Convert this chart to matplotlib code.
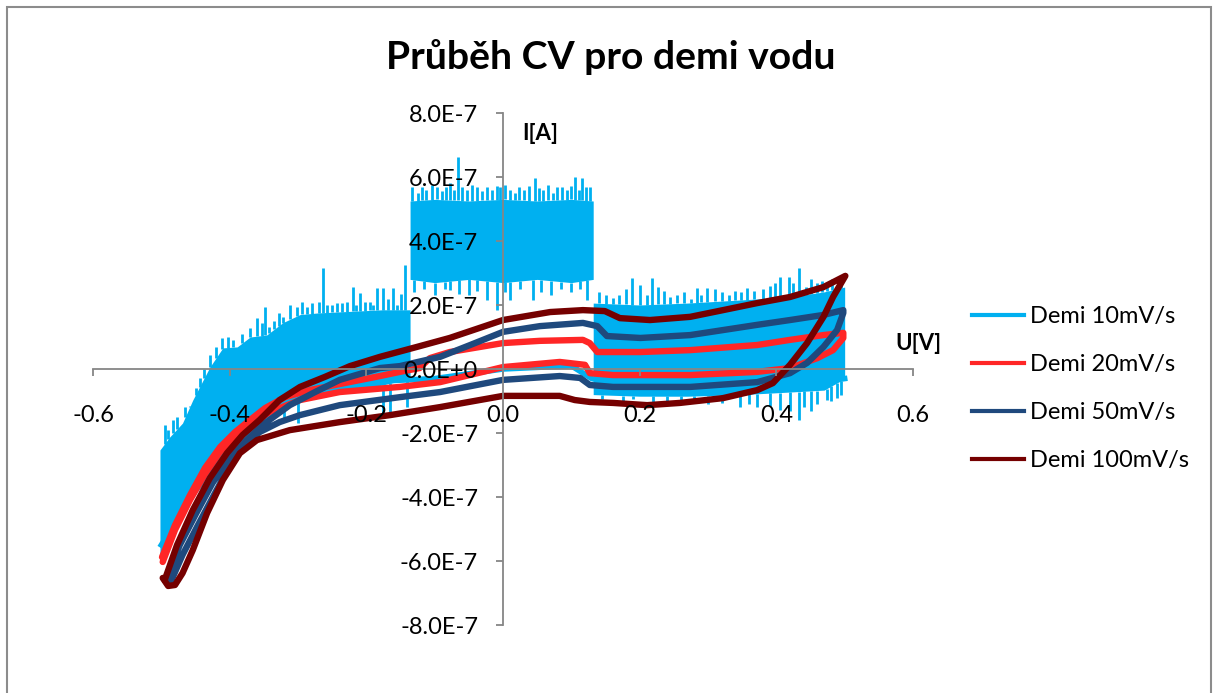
import numpy as np
import matplotlib
matplotlib.use("Agg")
import matplotlib.pyplot as plt
from matplotlib.lines import Line2D
from matplotlib.patches import Rectangle
from matplotlib.ticker import FuncFormatter

plt.rcParams['font.family'] = ['Lato', 'DejaVu Sans']

E7 = 1e-7   # proudy v tabulkach jsou v jednotkach 1e-7 A

# ---- Demi 20mV/s (dopredny a zpetny sken)
u20_fwd = [-0.499, -0.480, -0.458, -0.436, -0.414, -0.392, -0.370, -0.348, -0.319, -0.283, -0.239,
           -0.180, -0.151, -0.122, -0.107, -0.078, 0.000, 0.054, 0.117, 0.127, 0.138, 0.201, 0.274,
           0.372, 0.420, 0.469, 0.498]
i20_fwd = [-5.88, -4.88, -3.94, -3.09, -2.44, -1.97, -1.59, -1.22, -0.88, -0.66, -0.47,
           -0.22, -0.09, 0.03, 0.34, 0.53, 0.81, 0.88, 0.91, 0.81, 0.53, 0.53, 0.59,
           0.75, 0.91, 1.06, 1.13]
u20_rev = [0.498, 0.483, 0.460, 0.420, 0.372, 0.274, 0.161, 0.127, 0.120, 0.083, 0.000, -0.092,
           -0.151, -0.239, -0.297, -0.341, -0.370, -0.392, -0.414, -0.436, -0.458, -0.480, -0.498]
i20_rev = [0.97, 0.59, 0.34, 0.03, -0.09, -0.19, -0.19, -0.13, 0.13, 0.22, 0.06, -0.41,
           -0.56, -0.72, -0.97, -1.34, -1.75, -2.13, -2.59, -3.28, -4.09, -5.03, -6.03]

# ---- Demi 50mV/s
u50_fwd = [-0.492, -0.473, -0.448, -0.425, -0.400, -0.375, -0.348, -0.312, -0.275, -0.239, -0.180,
           -0.151, -0.092, -0.048, 0.000, 0.054, 0.117, 0.138, 0.152, 0.201, 0.274, 0.372, 0.420,
           0.469, 0.498]
i50_fwd = [-6.53, -5.50, -4.47, -3.56, -2.78, -2.22, -1.69, -1.13, -0.72, -0.34, 0.03,
           0.09, 0.38, 0.75, 1.16, 1.34, 1.44, 1.34, 1.03, 0.97, 1.06, 1.38, 1.53,
           1.69, 1.84]
u50_rev = [0.498, 0.489, 0.469, 0.445, 0.420, 0.372, 0.274, 0.161, 0.127, 0.113, 0.083, 0.000,
           -0.092, -0.151, -0.239, -0.297, -0.327, -0.356, -0.378, -0.395, -0.419, -0.444, -0.469,
           -0.485, -0.492]
i50_rev = [1.75, 1.22, 0.69, 0.19, -0.13, -0.41, -0.56, -0.56, -0.50, -0.28, -0.22, -0.34,
           -0.72, -0.88, -1.13, -1.44, -1.66, -1.97, -2.38, -2.84, -3.78, -4.78, -5.81,
           -6.59, -6.69]

# ---- Demi 100mV/s
u100_fwd = [-0.495, -0.477, -0.454, -0.429, -0.404, -0.381, -0.356, -0.327, -0.297, -0.261, -0.224,
            -0.180, -0.126, -0.078, 0.000, 0.069, 0.117, 0.149, 0.171, 0.215, 0.274, 0.322, 0.372,
            0.420, 0.469, 0.501]
i100_fwd = [-6.59, -5.50, -4.41, -3.41, -2.63, -2.06, -1.59, -0.97, -0.56, -0.25, 0.09,
            0.38, 0.69, 0.97, 1.53, 1.78, 1.84, 1.81, 1.59, 1.53, 1.63, 1.84, 2.06,
            2.25, 2.56, 2.91]
u100_rev = [0.501, 0.483, 0.469, 0.445, 0.420, 0.395, 0.372, 0.322, 0.259, 0.211, 0.161, 0.127,
            0.105, 0.083, 0.000, -0.092, -0.165, -0.239, -0.312, -0.360, -0.385, -0.410, -0.433,
            -0.454, -0.469, -0.480, -0.490, -0.498]
i100_rev = [2.91, 2.25, 1.63, 0.81, 0.13, -0.44, -0.66, -0.91, -1.06, -1.13, -1.06, -1.03,
            -0.97, -0.84, -0.84, -1.19, -1.44, -1.66, -1.91, -2.22, -2.63, -3.47, -4.50,
            -5.66, -6.38, -6.75, -6.78, -6.53]

# ---- Demi 10mV/s: silny sum -> pas (horni/dolni obalka) + jednotlive spicky
u10_band = [-0.502, -0.488, -0.469, -0.454, -0.429, -0.410, -0.389, -0.370, -0.346, -0.322, -0.297,
            -0.272, -0.224, -0.176, -0.136, -0.136, -0.100, -0.050, 0.000, 0.050, 0.100, 0.132,
            0.132, 0.200, 0.270, 0.350, 0.420, 0.470, 0.500]
i10_top = [-2.53, -2.13, -1.69, -0.97, 0.06, 0.66, 0.69, 1.00, 1.06, 1.45, 1.70,
           1.75, 1.80, 1.85, 1.85, 5.25, 5.30, 5.25, 5.30, 5.25, 5.30, 5.25,
           2.06, 2.00, 2.06, 2.16, 2.25, 2.41, 2.56]
i10_bot = [-5.80, -5.20, -4.50, -3.90, -3.20, -2.70, -2.10, -1.80, -1.40, -1.20, -1.00,
           -0.90, -0.70, -0.50, -0.30, 2.80, 2.70, 2.80, 2.70, 2.80, 2.70, 2.80,
           -0.80, -0.85, -0.85, -0.80, -0.72, -0.66, -0.30]
u10_rev = [0.50, 0.40, 0.30, 0.20, 0.13, 0.10, 0.00, -0.10, -0.20, -0.26, -0.30, -0.35, -0.40, -0.45, -0.50]
i10_rev = [-0.30, -0.60, -0.70, -0.60, -0.30, 0.10, 0.00, -0.30, -0.40, -0.60, -0.90, -1.50, -2.50, -3.80, -5.50]

spike_up_u = [-0.495, -0.490, -0.483, -0.477, -0.465, -0.458, -0.450, -0.444, -0.437, -0.429, -0.420,
              -0.411, -0.402, -0.395, -0.382, -0.370, -0.360, -0.352, -0.348, -0.342, -0.335, -0.328,
              -0.322, -0.312, -0.302, -0.294, -0.287, -0.280, -0.270, -0.264, -0.257, -0.250, -0.243,
              -0.235, -0.228, -0.220, -0.215, -0.209, -0.202, -0.195, -0.190, -0.184, -0.176, -0.168,
              -0.161, -0.155, -0.149, -0.143,
              -0.133, -0.125, -0.119, -0.112, -0.104, -0.097, -0.090, -0.083, -0.078, -0.071, -0.066,
              -0.060, -0.053, -0.046, -0.038, -0.031, -0.024, -0.016, -0.009, -0.004, 0.003, 0.010,
              0.017, 0.024, 0.031, 0.038, 0.047, 0.053, 0.059, 0.066, 0.073, 0.079, 0.086,
              0.094, 0.100, 0.105, 0.111, 0.116, 0.122, 0.127,
              0.140, 0.150, 0.161, 0.170, 0.180, 0.189, 0.201, 0.210, 0.218, 0.227, 0.236,
              0.245, 0.255, 0.265, 0.275, 0.284, 0.290, 0.299, 0.310, 0.320, 0.330, 0.340,
              0.348, 0.357, 0.368, 0.380, 0.390, 0.398, 0.406, 0.418, 0.425, 0.433, 0.443,
              0.450, 0.460, 0.467, 0.474, 0.482, 0.489, 0.495]
spike_up_i = [-1.75, -1.90, -1.60, -1.50, -1.20, -1.19, -0.60, -0.28, 0.00, 0.44, 0.70,
              0.97, 1.00, 0.90, 1.10, 1.28, 1.59, 1.45, 1.94, 1.30, 1.50, 1.75,
              1.63, 2.00, 1.94, 2.10, 1.94, 2.05, 2.10, 3.16, 2.00, 2.00, 2.05,
              2.05, 2.10, 2.56, 2.00, 2.38, 2.10, 2.10, 2.00, 2.53, 2.53, 2.20,
              2.53, 2.00, 2.35, 3.25,
              5.70, 5.50, 5.69, 5.60, 5.75, 5.69, 5.55, 5.70, 5.80, 5.60, 6.63,
              5.70, 5.60, 5.75, 5.69, 5.55, 5.70, 5.60, 5.72, 5.69, 5.75, 5.60,
              5.50, 5.70, 5.60, 5.72, 5.97, 5.65, 5.60, 5.75, 5.50, 5.70, 5.69,
              5.60, 5.72, 6.00, 5.60, 5.97, 5.70, 5.69,
              2.40, 2.30, 2.22, 2.30, 2.50, 2.84, 2.63, 2.30, 2.84, 2.56, 2.45,
              2.25, 2.30, 2.40, 2.20, 2.53, 2.30, 2.53, 2.50, 2.40, 2.30, 2.45,
              2.40, 2.53, 2.45, 2.50, 2.60, 2.70, 2.88, 2.88, 2.70, 3.16, 2.56,
              2.80, 2.70, 2.75, 2.63, 2.80, 2.47, 2.90]
spike_dn_u = [-0.320, -0.300, -0.176, -0.165, -0.140,
              -0.130, -0.115, -0.100, -0.085, -0.078, -0.065, -0.050, -0.038, -0.023, -0.009,
              0.003, 0.010, 0.025, 0.044, 0.055, 0.070, 0.085, 0.100, 0.112, 0.123,
              0.145, 0.176, 0.190, 0.220, 0.240, 0.260, 0.280, 0.300, 0.320, 0.347, 0.360,
              0.372, 0.390, 0.406, 0.420, 0.433, 0.440, 0.450, 0.460, 0.474, 0.480, 0.489, 0.495]
spike_dn_i = [-1.60, -1.70, -1.50, -1.45, -1.20,
              2.40, 2.50, 2.30, 2.50, 2.47, 2.35, 2.30, 2.45, 2.16, 1.84,
              2.40, 2.16, 2.50, 2.16, 2.40, 2.30, 2.50, 2.40, 2.50, 2.16,
              -0.95, -1.00, -0.95, -1.05, -1.00, -1.00, -0.95, -1.10, -1.05, -1.19, -1.10,
              -1.20, -1.15, -1.28, -1.30, -1.59, -1.20, -1.30, -1.10, -0.97, -1.00, -0.90, -0.80]

labels = ["Demi 10mV/s", "Demi 20mV/s", "Demi 50mV/s", "Demi 100mV/s"]
colors = ["#00B0F0", "#FF2626", "#1F497D", "#750000"]

W, H = 1217, 693
fig = plt.figure(figsize=(W / 100, H / 100), dpi=100)
ax = fig.add_axes([93 / W, (H - 625) / H, 820 / W, 512 / H])
ax.set_xlim(-0.6, 0.6)
ax.set_ylim(-8e-7, 8e-7)

# 10 mV/s - sumovy pas
ub = np.array(u10_band)
ax.fill_between(ub, np.array(i10_bot) * E7, np.array(i10_top) * E7, color=colors[0], lw=0, zorder=2)
ax.plot(u10_rev, np.array(i10_rev) * E7, color=colors[0], lw=4, zorder=2)
up_base = np.interp(spike_up_u, ub, i10_top)
ax.vlines(spike_up_u, up_base * E7, np.array(spike_up_i) * E7, color=colors[0], lw=2, zorder=2)
dn_base = np.interp(spike_dn_u, ub, i10_bot)
ax.vlines(spike_dn_u, dn_base * E7, np.array(spike_dn_i) * E7, color=colors[0], lw=2, zorder=2)

# ostatni rychlosti - uzavrene smycky
loops = [(u20_fwd, i20_fwd, u20_rev, i20_rev),
         (u50_fwd, i50_fwd, u50_rev, i50_rev),
         (u100_fwd, i100_fwd, u100_rev, i100_rev)]
for k, (uf, jf, ur, jr) in enumerate(loops):
    u = list(uf) + list(ur)
    i = np.array(list(jf) + list(jr)) * E7
    ax.plot(u, i, color=colors[k + 1], lw=4.6, solid_joinstyle='round', solid_capstyle='round', zorder=3 + k)

# osy pres nulu, styl jako v Excelu
axis_col = "#868686"
for s in ["top", "right"]:
    ax.spines[s].set_visible(False)
ax.spines["left"].set_position(("data", 0))
ax.spines["bottom"].set_position(("data", 0))
for s in ["left", "bottom"]:
    ax.spines[s].set_color(axis_col)
    ax.spines[s].set_linewidth(1.3)
    ax.spines[s].set_zorder(10)
ax.xaxis.set_zorder(10)
ax.yaxis.set_zorder(10)

ax.set_xticks(np.round(np.arange(-0.6, 0.61, 0.2), 1))
ax.xaxis.set_major_formatter(FuncFormatter(lambda v, p: "%.1f" % (0.0 if abs(v) < 1e-9 else v)))


def fmt_y(v, pos):
    if abs(v) < 1e-12:
        return "0.0E+0"
    e = int(np.floor(np.log10(abs(v)) + 1e-9))
    return "%.1fE%d" % (v / 10 ** e, e)


ax.set_yticks(np.arange(-8, 8.1, 2) * E7)
ax.yaxis.set_major_formatter(FuncFormatter(fmt_y))
ax.tick_params(axis="x", direction="out", length=5, width=1.3, color=axis_col, pad=21, labelsize=17)
ax.tick_params(axis="y", direction="out", length=5, width=1.3, color=axis_col, pad=13, labelsize=17)

fig.text(611 / W, 1 - 57 / H, "Průběh CV pro demi vodu", ha="center", va="center",
         fontsize=28.2, fontweight="bold")
fig.text(540 / W, 1 - 133 / H, "I[A]", ha="center", va="center", fontsize=16, fontweight="bold")
fig.text(918 / W, 1 - 343 / H, "U[V]", ha="center", va="center", fontsize=16, fontweight="bold")

handles = [Line2D([], [], color=c, lw=3) for c in colors]
fig.legend(handles, labels, loc="upper left", bbox_to_anchor=(972 / W, 1 - 306 / H), frameon=False,
           fontsize=17, handlelength=2.2, handletextpad=0.25, labelspacing=1.15,
           borderpad=0, borderaxespad=0)

fig.add_artist(Rectangle((7 / W, -0.01), 1204 / W, 1.01 - 7 / H, transform=fig.transFigure,
                         fill=False, edgecolor="#8C8C8C", lw=1.5))

fig.savefig("out.png", dpi=100)
